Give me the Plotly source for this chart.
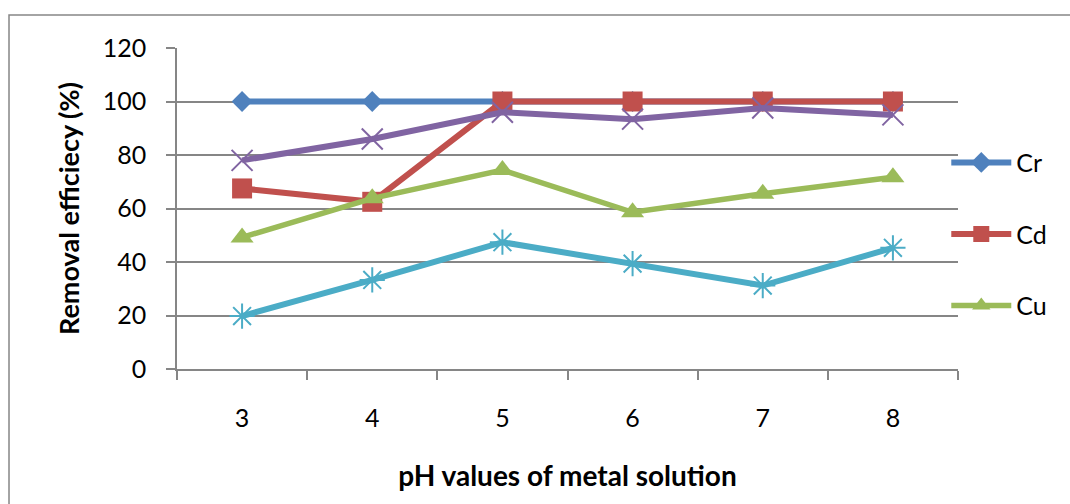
import plotly.graph_objects as go

# pH values of the metal solution (category axis)
ph_values = ["3", "4", "5", "6", "7", "8"]

# Removal efficiency (%) per metal
cr_removal = [100, 100, 100, 100, 100, 100]
cd_removal = [67.5, 62.5, 100, 100, 100, 100]
cu_removal = [49.2, 63.8, 74.4, 58.6, 65.5, 71.7]
series4_removal = [78.0, 86.0, 96.0, 93.4, 97.6, 95.0]
series5_removal = [19.8, 33.3, 47.4, 39.4, 31.2, 45.3]

y_ticks = [0, 20, 40, 60, 80, 100, 120]

GRID = "#868686"
FONT = "Lato, 'Open Sans', sans-serif"

fig = go.Figure()

fig.add_trace(go.Scatter(
    x=ph_values, y=cr_removal, name="Cr", mode="lines+markers",
    line=dict(color="#4F81BD", width=6),
    marker=dict(symbol="diamond", size=16, color="#4F81BD"),
    legendgroup="cr",
))
fig.add_trace(go.Scatter(
    x=ph_values, y=cd_removal, name="Cd", mode="lines+markers",
    line=dict(color="#C0504D", width=6),
    marker=dict(symbol="square", size=20, color="#C0504D"),
    legendgroup="cd",
))
fig.add_trace(go.Scatter(
    x=ph_values, y=cu_removal, name="Cu", mode="lines+markers",
    line=dict(color="#9BBB59", width=5.5),
    marker=dict(symbol="triangle-up", size=20, color="#9BBB59"),
    legendgroup="cu",
))
fig.add_trace(go.Scatter(
    x=ph_values, y=series4_removal, name="Series4", mode="lines+markers",
    line=dict(color="#8064A2", width=6),
    marker=dict(symbol="x-thin", size=21, color="#8064A2",
                line=dict(color="#8064A2", width=2)),
    showlegend=False,
))
fig.add_trace(go.Scatter(
    x=ph_values, y=series5_removal, name="Series5", mode="lines+markers",
    line=dict(color="#4BACC6", width=6),
    marker=dict(symbol="asterisk", size=21, color="#4BACC6",
                line=dict(color="#4BACC6", width=2)),
    showlegend=False,
))

# outer chart border
fig.add_shape(type="rect", xref="paper", yref="paper",
              x0=-0.2151, x1=1.2, y0=-0.5, y1=1.1028,
              line=dict(color=GRID, width=1.5), fillcolor="rgba(0,0,0,0)",
              layer="below")

fig.update_layout(
    width=1070, height=504,
    margin=dict(l=177, r=112, t=48, b=135),
    paper_bgcolor="white", plot_bgcolor="white",
    font=dict(family=FONT, color="black", size=25),
    showlegend=True,
    legend=dict(
        x=0.985, y=0.42, xanchor="left", yanchor="middle",
        font=dict(size=25, family=FONT),
        tracegroupgap=36, itemwidth=60,
        bgcolor="rgba(0,0,0,0)",
    ),
    xaxis=dict(
        type="category", range=[-0.5, 5.5],
        showline=True, linecolor=GRID, linewidth=1.5,
        ticks="outside", ticklen=9, tickcolor=GRID, tickwidth=1.5,
        tickson="boundaries", showgrid=False,
        ticklabelstandoff=26,
        tickfont=dict(size=25, family=FONT, color="black"),
        title=dict(text="<b>pH values of metal solution</b>", standoff=36,
                   font=dict(size=28)),
    ),
    yaxis=dict(
        range=[0, 120], tickvals=y_ticks,
        showline=True, linecolor=GRID, linewidth=1.5,
        ticks="outside", ticklen=9, tickcolor=GRID, tickwidth=1.5,
        showgrid=True, gridcolor=GRID, gridwidth=1.5,
        zeroline=False, ticklabelstandoff=15,
        tickfont=dict(size=25, family=FONT, color="black"),
        title=dict(text="<b>Removal efficiecy (%)</b>", standoff=15,
                   font=dict(size=27)),
    ),
)

fig.write_html("out.html")
